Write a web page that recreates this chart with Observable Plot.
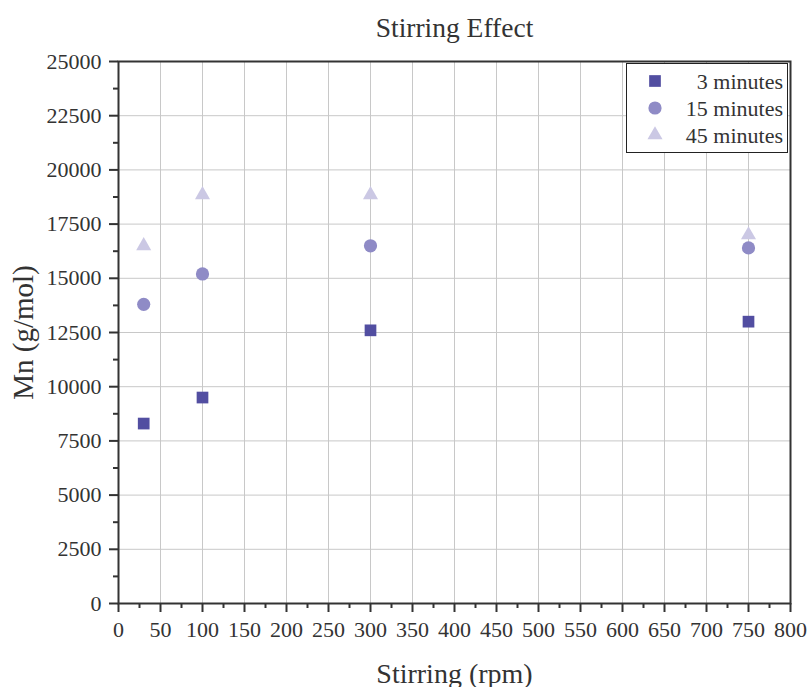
<!DOCTYPE html>
<html>
<head>
<meta charset="utf-8">
<script src="https://cdn.jsdelivr.net/npm/d3@7"></script>
<script src="https://cdn.jsdelivr.net/npm/@observablehq/plot@0.6"></script>
<style>
  html, body { margin: 0; padding: 0; background: white; }
  #wrap { position: relative; width: 808px; height: 687px; overflow: hidden; }
  #legend { position: absolute; left: 626px; top: 63px; width: 160px; height: 88px;
            border: 1px solid #222; background: white; }
  #chart svg, #chart svg text, #legend svg text { font-family: "Liberation Serif", "Times New Roman", serif !important; }
  #chart g[aria-label="x-axis tick label"], #chart g[aria-label="y-axis tick label"] { font-size: 22px !important; }
</style>
</head>
<body>
<div id="wrap"><div id="chart"></div><div id="legend"></div></div>
<script>
const stirring = [30, 100, 300, 750];
const mn3 = [8300, 9500, 12600, 13000];
const mn15 = [13800, 15200, 16500, 16400];
const mn45 = [16500, 18850, 18850, 17000];
const seriesNames = ["3 minutes", "15 minutes", "45 minutes"];
const seriesSymbols = ["square", "circle", "triangle"];
const seriesColors = ["#524ea1", "#8f8bc6", "#cbc8e4"];
const seriesR = [6.6, 6.6, 5.6];
const xTicks = d3.range(0, 801, 50);
const xMinor = d3.range(25, 800, 50);
const yTicks = d3.range(0, 25001, 2500);
const yMinor = d3.range(1250, 25000, 2500);
const title = "Stirring Effect";
const xLabel = "Stirring (rpm)";
const yLabel = "Mn (g/mol)";

const seriesValues = [mn3, mn15, mn45];
const rows = [];
seriesValues.forEach((vals, i) => vals.forEach((v, j) => rows.push({x: stirring[j], y: v, s: i})));

const font = "Liberation Serif";
const tickFont = {fontFamily: font, fontSize: 22};
const labelOpts = {textAnchor: "middle", lineAnchor: "middle", fill: "#333", fontFamily: font};
const chart = Plot.plot({
  width: 808,
  height: 687,
  marginLeft: 118,
  marginRight: 18,
  marginTop: 61,
  marginBottom: 84,
  style: {fontFamily: font, fontSize: "22px", color: "#333", background: "white"},
  x: {domain: [0, 800]},
  y: {domain: [0, 25000]},
  marks: [
    Plot.gridX(xTicks, {stroke: "#c8c8c8", strokeOpacity: 1, strokeWidth: 1}),
    Plot.gridY(yTicks, {stroke: "#c8c8c8", strokeOpacity: 1, strokeWidth: 1}),
    Plot.axisX(xMinor, {tickSize: 5, tickFormat: () => "", label: null, strokeWidth: 2, stroke: "#333"}),
    Plot.axisX(xTicks, {tickSize: 9, tickPadding: 9, label: null, strokeWidth: 2, stroke: "#333", fill: "#333", tickFormat: d => String(d), ...tickFont}),
    Plot.axisY(yMinor, {tickSize: 5, tickFormat: () => "", label: null, strokeWidth: 2, stroke: "#333"}),
    Plot.axisY(yTicks, {tickSize: 9, tickPadding: 8, label: null, strokeWidth: 2, stroke: "#333", fill: "#333", tickFormat: d => String(d), ...tickFont}),
    Plot.frame({stroke: "#333", strokeWidth: 2}),
    ...seriesValues.map((vals, i) => Plot.dot(rows.filter(d => d.s === i), {
      x: "x", y: "y", symbol: seriesSymbols[i], fill: seriesColors[i], r: seriesR[i], stroke: "none"
    })),
    Plot.text([title], {frameAnchor: "top", dy: -33, fontSize: 27.5, ...labelOpts}),
    Plot.text([yLabel], {frameAnchor: "left", dx: -95, rotate: -90, fontSize: 29, ...labelOpts}),
    Plot.text([xLabel], {frameAnchor: "bottom", dy: 71, fontSize: 28, ...labelOpts})
  ]
});
document.getElementById("chart").appendChild(chart);

// legend
const lg = d3.select("#legend").append("svg").attr("width", 160).attr("height", 88)
  .style("font-size", "22px");
seriesNames.forEach((name, i) => {
  const cy = 17 + i * 27;
  const sym = {square: d3.symbolSquare, circle: d3.symbolCircle, triangle: d3.symbolTriangle}[seriesSymbols[i]];
  lg.append("path").attr("d", d3.symbol(sym, Math.PI * seriesR[i] * seriesR[i])())
    .attr("transform", `translate(28,${cy})`).attr("fill", seriesColors[i]);
  lg.append("text").attr("x", 156).attr("y", cy).attr("dy", "0.35em")
    .attr("text-anchor", "end").attr("fill", "#333").text(name);
});
</script>
</body>
</html>
